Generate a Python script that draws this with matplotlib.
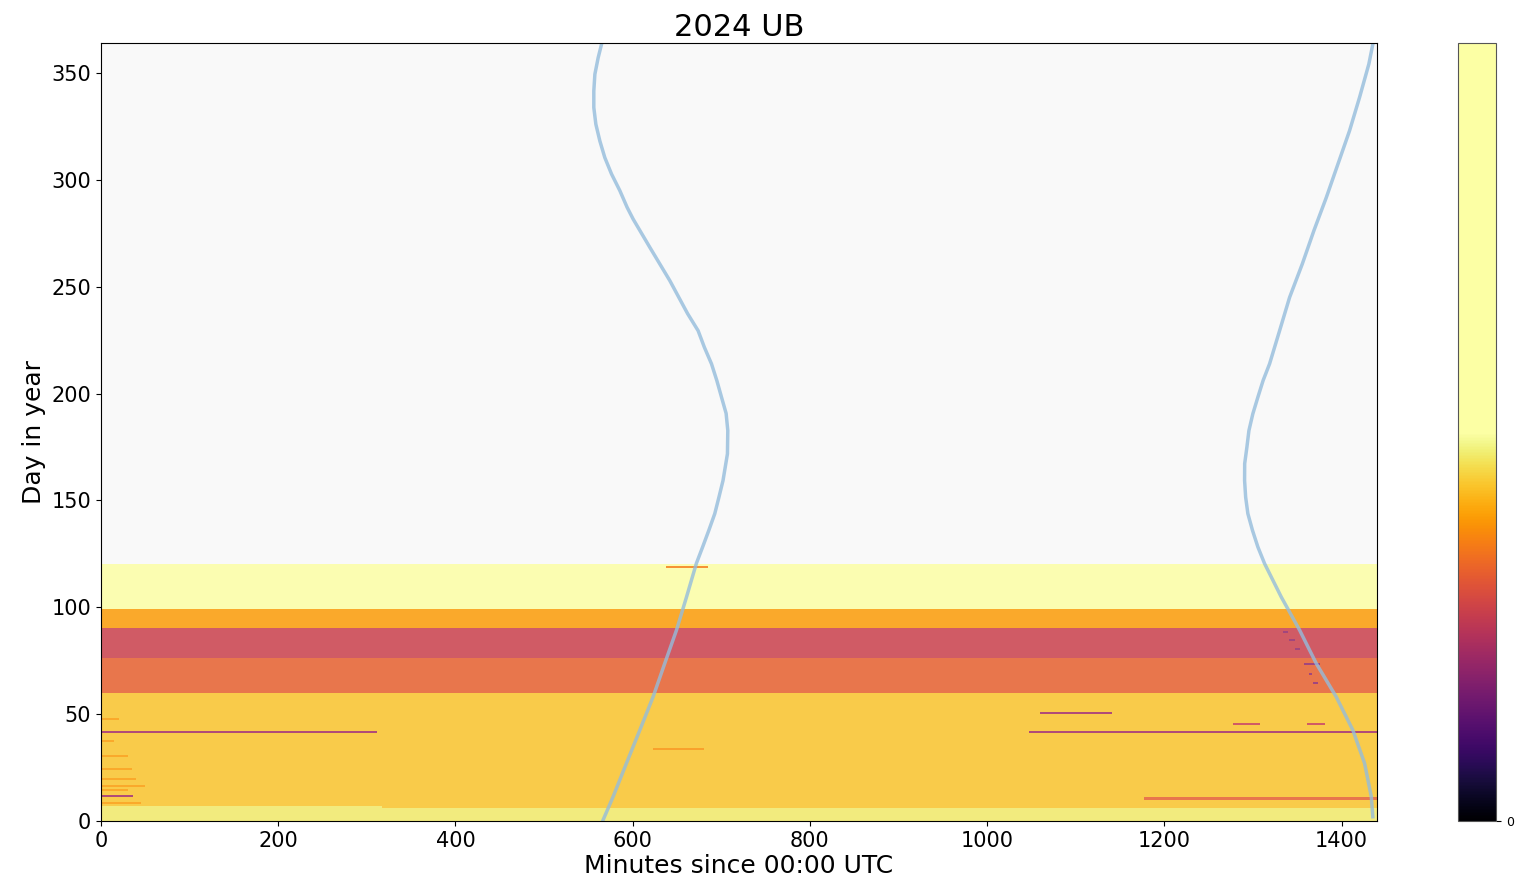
import numpy as np
import matplotlib
matplotlib.use("Agg")
import matplotlib.pyplot as plt
from matplotlib.colors import ListedColormap, Normalize
from matplotlib.cm import ScalarMappable

# --- données ---
# bandes horizontales (jours) et niveau sur l'échelle de la barre de couleur (0..1)
band_day_start = [0, 6, 60, 76, 90, 99]
band_day_end = [6, 60, 76, 90, 99, 120]
band_level = [0.47, 0.43, 0.32, 0.27, 0.39, 0.50]

# petits blocs / traînées : jour début, jour fin, minute début, minute fin, niveau
streak_day0 = [6, 41, 11, 50, 41, 45, 45, 10, 118, 33,
               88, 84, 80, 73, 68, 64,
               47, 37, 30, 24, 19, 16, 14, 8]
streak_day1 = [7, 42, 12, 51, 42, 46, 46, 11, 119, 34,
               89, 85, 81, 74, 69, 65,
               48, 38, 31, 25, 20, 17, 15, 9]
streak_min0 = [0, 0, 0, 1059, 1047, 1276, 1360, 1176, 637, 623,
               1333, 1340, 1346, 1356, 1362, 1367,
               0, 0, 0, 0, 0, 0, 0, 0]
streak_min1 = [317, 311, 36, 1140, 1440, 1307, 1380, 1440, 685, 680,
               1338, 1346, 1352, 1375, 1366, 1372,
               20, 15, 30, 35, 40, 50, 30, 45]
streak_level = [0.47, 0.22, 0.22, 0.22, 0.22, 0.27, 0.27, 0.32, 0.36, 0.38,
                0.20, 0.20, 0.20, 0.20, 0.20, 0.20,
                0.39, 0.39, 0.39, 0.39, 0.39, 0.39, 0.39, 0.39]

# lever / coucher du soleil (jour, minutes depuis 00:00 UTC)
sunrise_day = [0.5, 11.4, 27.1, 42.5, 58.1, 73.8, 89.3, 104.8, 120.6, 128.2,
               136.0, 143.8, 151.5, 159.3, 171.8, 182.7, 190.7, 198.3, 206.1,
               213.9, 221.6, 229.4, 237.4, 252.8, 268.4, 281.6, 287.1, 294.9,
               302.7, 310.4, 318.2, 326.0, 333.8, 341.6, 349.4, 357.1, 363.4]
sunrise_min = [566.7, 578.0, 593.1, 608.1, 623.1, 636.3, 649.5, 660.8, 672.0, 679.0,
               686.0, 692.7, 697.4, 702.0, 707.0, 707.4, 705.5, 700.3, 695.0,
               689.0, 681.0, 673.9, 662.0, 642.0, 619.4, 600.6, 593.8, 585.6,
               576.2, 568.6, 563.0, 558.5, 556.2, 556.2, 557.4, 561.1, 564.9]
sunset_day = [2.0, 11.4, 27.0, 42.5, 58.1, 73.7, 89.3, 104.8, 120.4, 128.2,
              136.0, 143.8, 151.5, 159.3, 167.2, 174.9, 182.7, 190.5, 198.3,
              206.1, 213.9, 229.4, 245.0, 260.6, 276.2, 291.7, 307.3, 322.9,
              338.5, 354.1, 363.4]
sunset_min = [1435.3, 1433.6, 1426.0, 1412.8, 1394.0, 1371.5, 1352.7, 1332.0, 1313.2, 1305.6,
              1299.5, 1294.3, 1291.8, 1290.6, 1290.7, 1293.2, 1295.5, 1299.9, 1305.6,
              1311.5, 1318.8, 1330.1, 1341.4, 1355.7, 1368.8, 1382.8, 1395.9, 1409.0,
              1420.3, 1430.8, 1435.3]

N_DAYS = 365
N_MIN = 1440


def build_grid():
    grid = np.full((N_DAYS, N_MIN), np.nan)
    for d0, d1, lev in zip(band_day_start, band_day_end, band_level):
        grid[d0:d1, :] = lev
    for d0, d1, m0, m1, lev in zip(streak_day0, streak_day1, streak_min0,
                                   streak_min1, streak_level):
        grid[d0:d1, m0:m1] = lev
    return grid


# inferno sur la moitié basse, jaune pâle constant au-dessus
base = plt.get_cmap("inferno")(np.linspace(0, 1, 256))
top = np.tile(base[-1], (256, 1))
cmap = ListedColormap(np.vstack([base, top]))
cmap.set_bad((0, 0, 0, 0))
norm = Normalize(vmin=0, vmax=1)

fig = plt.figure(figsize=(15.18, 8.83), dpi=100)
ax = fig.add_axes([0.0665, 0.0702, 0.8406, 0.8811])
cax = fig.add_axes([0.9605, 0.0702, 0.025, 0.8811])

ax.set_facecolor("#f9f9f9")
ax.imshow(build_grid(), origin="lower", aspect="auto", cmap=cmap, norm=norm,
          alpha=0.85, interpolation="nearest", extent=[0, N_MIN, 0, N_DAYS])

ax.plot(sunrise_min, sunrise_day, color="#94bcdc", lw=2.5, alpha=0.8)
ax.plot(sunset_min, sunset_day, color="#94bcdc", lw=2.5, alpha=0.8)

ax.set_xlim(0, N_MIN)
ax.set_ylim(0, 364)
ax.set_xticks([0, 200, 400, 600, 800, 1000, 1200, 1400])
ax.set_yticks([0, 50, 100, 150, 200, 250, 300, 350])
ax.tick_params(labelsize=15)
ax.set_xlabel("Minutes since 00:00 UTC", fontsize=18, labelpad=2)
ax.set_ylabel("Day in year", fontsize=18)
ax.set_title("2024 UB", fontsize=22, pad=5)

cb = fig.colorbar(ScalarMappable(norm=norm, cmap=cmap), cax=cax)
cb.set_ticks([0])
cb.ax.tick_params(labelsize=9)
cb.outline.set_edgecolor("#555555")

fig.savefig("out.png", dpi=100)
